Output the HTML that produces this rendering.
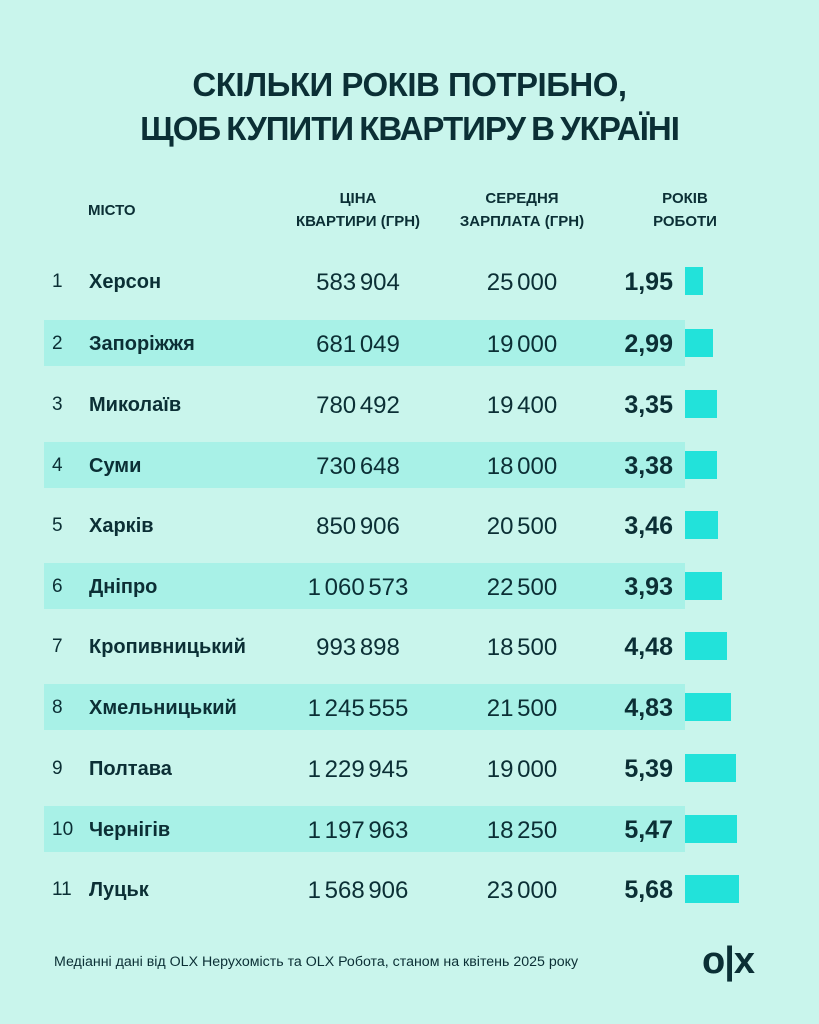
<!DOCTYPE html>
<html><head><meta charset="utf-8"><style>
body{margin:0;width:819px;height:1024px;background:#c9f5ec;position:relative;overflow:hidden;font-family:"Liberation Sans",sans-serif;color:#0b2f35}
.t{position:absolute;left:0;width:819px;text-align:center;font-weight:bold;font-size:33px;letter-spacing:-0.5px}
.h{position:absolute;font-weight:bold;font-size:15px;text-align:center;line-height:23px}
.row{position:absolute;left:44px;width:641px;height:46px}
.s{background:#a8f1e7}
.c{position:absolute;top:0;height:46px;line-height:46px;white-space:nowrap}
.n{left:8px;font-size:19px;top:1px}
.city{left:45px;font-size:20px;font-weight:bold;top:1px}
.p{left:214px;width:200px;text-align:center;font-size:24px;word-spacing:-3px;top:2px}
.w{left:378px;width:200px;text-align:center;font-size:24px;word-spacing:-3px;top:2px}
.v{right:12px;font-size:25px;font-weight:bold;top:1px}
.bar{position:absolute;left:641px;top:9px;height:28px;background:#22e2da}
</style></head><body>
<div class="t" style="top:66px">СКІЛЬКИ РОКІВ ПОТРІБНО,</div>
<div class="t" style="top:110px;letter-spacing:-1px;word-spacing:-2px">ЩОБ КУПИТИ КВАРТИРУ В УКРАЇНІ</div>
<div class="h" style="left:88px;top:199px;text-align:left">МІСТО</div>
<div class="h" style="left:278px;top:187px;width:160px">ЦІНА<br>КВАРТИРИ (ГРН)</div>
<div class="h" style="left:442px;top:187px;width:160px">СЕРЕДНЯ<br>ЗАРПЛАТА (ГРН)</div>
<div class="h" style="left:630px;top:187px;width:110px">РОКІВ<br>РОБОТИ</div>

<div class="row" style="top:258px"><div class="c n">1</div><div class="c city">Херсон</div><div class="c p">583 904</div><div class="c w">25 000</div><div class="c v">1,95</div><div class="bar" style="width:18px"></div></div>
<div class="row s" style="top:320px"><div class="c n">2</div><div class="c city">Запоріжжя</div><div class="c p">681 049</div><div class="c w">19 000</div><div class="c v">2,99</div><div class="bar" style="width:28px"></div></div>
<div class="row" style="top:381px"><div class="c n">3</div><div class="c city">Миколаїв</div><div class="c p">780 492</div><div class="c w">19 400</div><div class="c v">3,35</div><div class="bar" style="width:32px"></div></div>
<div class="row s" style="top:442px"><div class="c n">4</div><div class="c city">Суми</div><div class="c p">730 648</div><div class="c w">18 000</div><div class="c v">3,38</div><div class="bar" style="width:32px"></div></div>
<div class="row" style="top:502px"><div class="c n">5</div><div class="c city">Харків</div><div class="c p">850 906</div><div class="c w">20 500</div><div class="c v">3,46</div><div class="bar" style="width:33px"></div></div>
<div class="row s" style="top:563px"><div class="c n">6</div><div class="c city">Дніпро</div><div class="c p">1 060 573</div><div class="c w">22 500</div><div class="c v">3,93</div><div class="bar" style="width:37px"></div></div>
<div class="row" style="top:623px"><div class="c n">7</div><div class="c city">Кропивницький</div><div class="c p">993 898</div><div class="c w">18 500</div><div class="c v">4,48</div><div class="bar" style="width:42px"></div></div>
<div class="row s" style="top:684px"><div class="c n">8</div><div class="c city">Хмельницький</div><div class="c p">1 245 555</div><div class="c w">21 500</div><div class="c v">4,83</div><div class="bar" style="width:46px"></div></div>
<div class="row" style="top:745px"><div class="c n">9</div><div class="c city">Полтава</div><div class="c p">1 229 945</div><div class="c w">19 000</div><div class="c v">5,39</div><div class="bar" style="width:51px"></div></div>
<div class="row s" style="top:806px"><div class="c n">10</div><div class="c city">Чернігів</div><div class="c p">1 197 963</div><div class="c w">18 250</div><div class="c v">5,47</div><div class="bar" style="width:52px"></div></div>
<div class="row" style="top:866px"><div class="c n">11</div><div class="c city">Луцьк</div><div class="c p">1 568 906</div><div class="c w">23 000</div><div class="c v">5,68</div><div class="bar" style="width:54px"></div></div>

<div style="position:absolute;left:54px;top:954px;font-size:14.2px">Медіанні дані від OLX Нерухомість та OLX Робота, станом на квітень 2025 року</div>
<div style="position:absolute;left:702px;top:940px;font-size:38px;font-weight:bold;letter-spacing:-1px">o|x</div>
</body></html>
